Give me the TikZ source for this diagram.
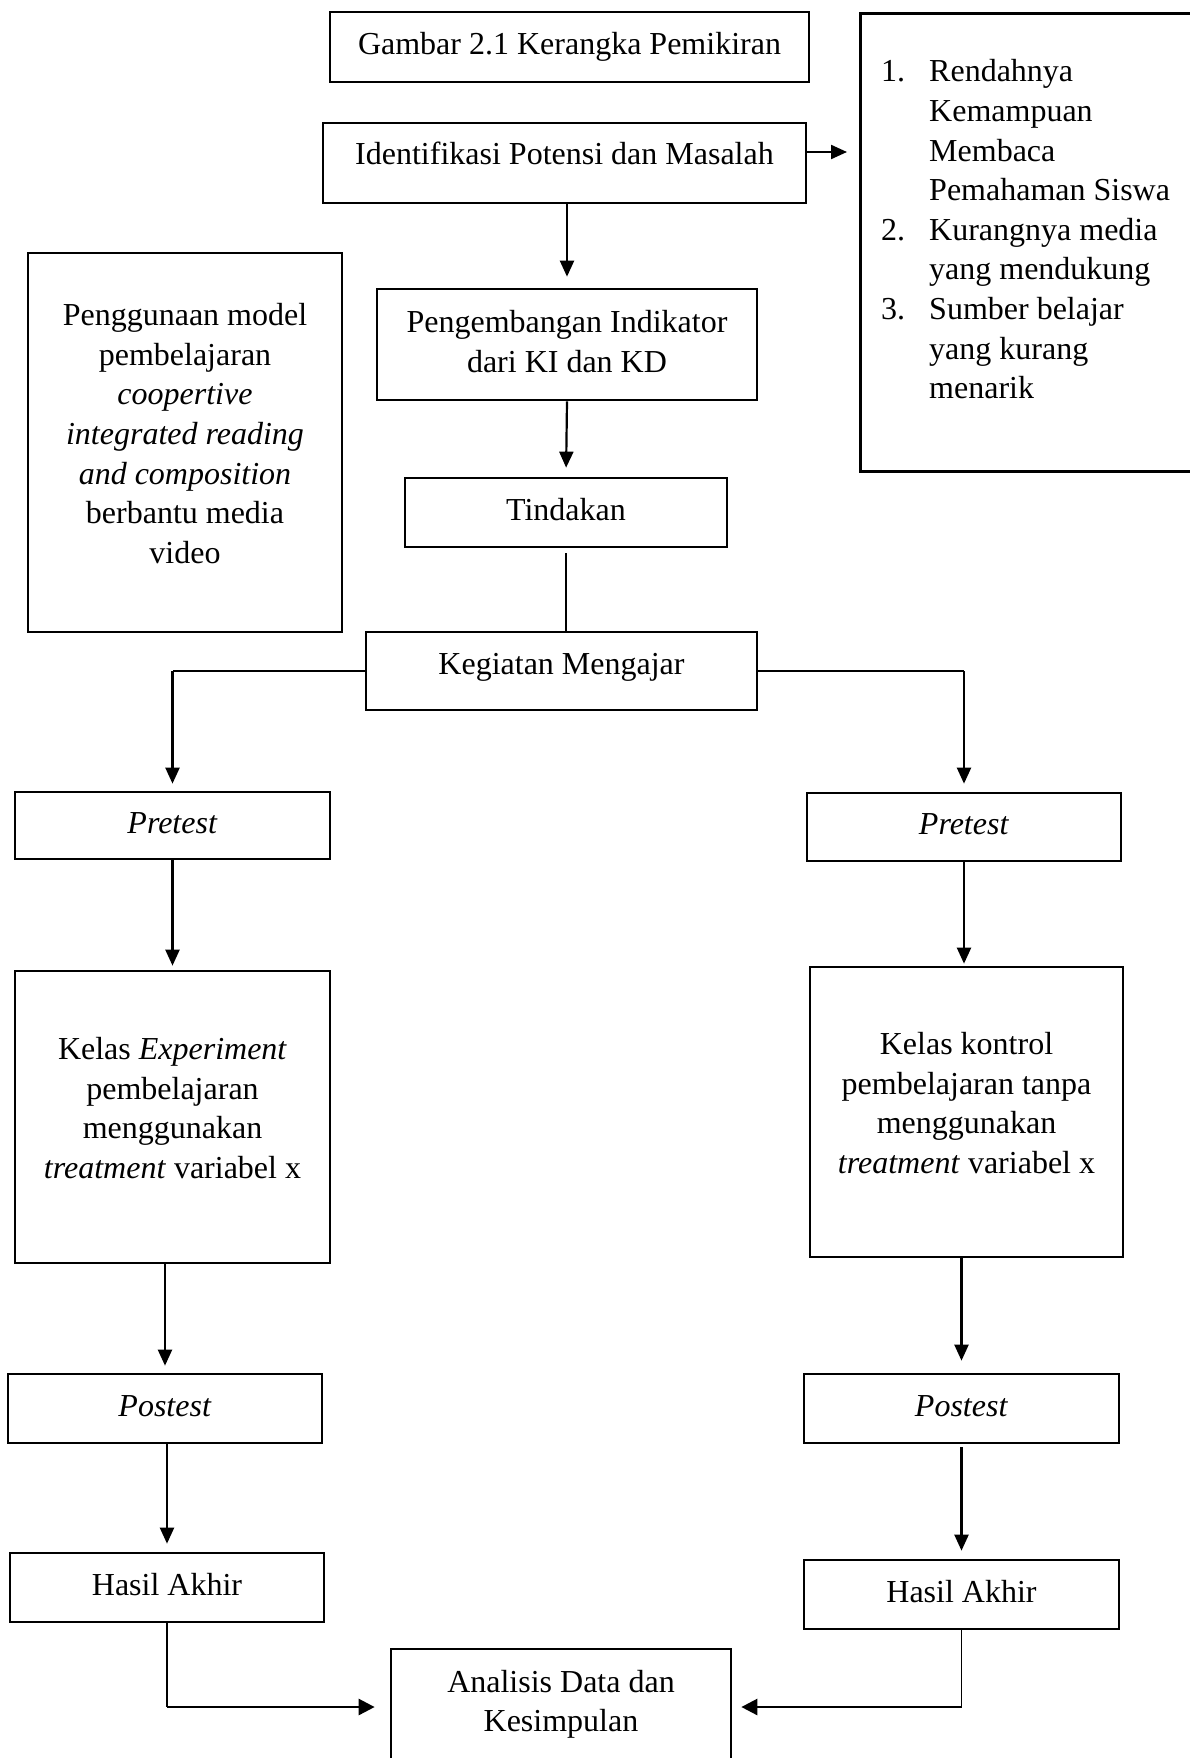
\documentclass[tikz,border=0pt]{standalone}
\usepackage{fontspec}
\setmainfont{Liberation Serif}
\usetikzlibrary{arrows.meta,calc}
\newcommand{\isi}[2][0pt]{\begin{tabular}{@{}c@{}}#2\\[#1]\end{tabular}}

\begin{document}
\begin{tikzpicture}[x=1pt,y=-1pt,
  kotak/.style={draw,line width=2.7pt,inner sep=0pt,font=\fontsize{32}{39.6}\selectfont},
  panah/.style={line width=2.2pt,-{Triangle[length=16pt,width=14pt]}},
  garis/.style={line width=1.4pt},
  tipis/.style={line width=1.2pt},
  panahtebal/.style={line width=2.6pt,-{Triangle[length=16pt,width=16pt]}}]
\useasboundingbox (0,0) rectangle (1190,1758);
% kolom tengah
\node[kotak,minimum width=479,minimum height=70] (judul) at (569.5,47) {\isi{Gambar 2.1 Kerangka Pemikiran}};
\node[kotak,minimum width=483,minimum height=80] (ident) at (564.5,163) {\isi[12pt]{Identifikasi Potensi dan Masalah}};
\node[kotak,minimum width=380,minimum height=111] (peng) at (567,344.5) {\isi{Pengembangan Indikator\\dari KI dan KD}};
\node[kotak,minimum width=322,minimum height=69] (tind) at (566,512.5) {\isi{Tindakan}};
\node[kotak,minimum width=391,minimum height=78] (keg) at (561.5,671) {\isi[8pt]{Kegiatan Mengajar}};
% kotak samping
\node[kotak,anchor=north west,minimum width=360,minimum height=458] (masalah) at (859,12) {};
\node[anchor=base west,inner sep=0pt,font=\fontsize{32}{39.6}\selectfont] (daftar) at (881,82)
  {\begin{tabular}[t]{@{}l@{\hspace{24pt}}l@{}}
   1. & Rendahnya\\ & Kemampuan\\ & Membaca\\ & Pemahaman Siswa\\
   2. & Kurangnya media\\ & yang mendukung\\
   3. & Sumber belajar\\ & yang kurang\\ & menarik
   \end{tabular}};
\node[kotak,minimum width=314,minimum height=379] (guna) at (185,442.5) {\isi[12pt]{Penggunaan model\\pembelajaran\\\textit{coopertive}\\\textit{integrated reading}\\\textit{and composition}\\berbantu media\\video}};
% kelas eksperimen
\node[kotak,minimum width=315,minimum height=67] (pre1) at (172.5,825.5) {\isi{\textit{Pretest}}};
\node[kotak,minimum width=315,minimum height=292] (kelas1) at (172.5,1117) {\isi[12pt]{Kelas \textit{Experiment}\\pembelajaran\\menggunakan\\\textit{treatment} variabel x}};
\node[kotak,minimum width=314,minimum height=69] (post1) at (165,1408.5) {\isi{\textit{Postest}}};
\node[kotak,minimum width=314,minimum height=69] (hasil1) at (167,1587.5) {\isi{Hasil Akhir}};
% kelas kontrol
\node[kotak,minimum width=314,minimum height=68] (pre2) at (964,827) {\isi{\textit{Pretest}}};
\node[kotak,minimum width=313,minimum height=290] (kelas2) at (966.5,1112) {\isi[12pt]{Kelas kontrol\\pembelajaran tanpa\\menggunakan\\\textit{treatment} variabel x}};
\node[kotak,minimum width=315,minimum height=69] (post2) at (961.5,1408.5) {\isi{\textit{Postest}}};
\node[kotak,minimum width=315,minimum height=69] (hasil2) at (961.5,1594.5) {\isi{Hasil Akhir}};
\node[kotak,minimum width=340,minimum height=116] (ana) at (561,1707) {\isi[6pt]{Analisis Data dan\\Kesimpulan}};
% penghubung
\draw[panah,shorten >=12pt] ([yshift=11pt]ident.east) -- ([yshift=11pt]ident.east -| masalah.west);
\draw[panah,shorten >=11pt] (ident.south -| peng.north) -- (peng.north);
\draw[panah,shorten >=9pt] (peng.south) -- (tind.north);
\draw[tipis,shorten <=5pt] (tind.south) -- (tind.south |- keg.north);
\coordinate (kiri) at (keg.west -| pre1.north);
\coordinate (kanan) at (keg.east -| pre2.north);
\draw[garis] (keg.west) -- (kiri);
\draw[panah,shorten >=7pt] (kiri) -- (pre1.north);
\draw[garis] (keg.east) -- (kanan);
\draw[panah,shorten >=8pt] (kanan) -- (pre2.north);
\draw[panah,shorten >=4pt] (pre1.south) -- (kelas1.north);
\draw[panah,shorten >=2pt] (pre2.south) -- (pre2.south |- kelas2.north);
\draw[panah,shorten >=7pt] (kelas1.south -| post1.north) -- (post1.north);
\draw[panah,shorten >=12pt] (kelas2.south -| post2.north) -- (post2.north);
\draw[panah,shorten >=8pt] (post1.south -| hasil1.north) -- (hasil1.north);
\draw[panah,shorten <=3pt,shorten >=8pt] (post2.south) -- (hasil2.north);
\draw[tipis] (hasil1.south) -- (hasil1.south |- ana.west);
\draw[panahtebal,shorten >=15pt] (hasil1.south |- ana.west) -- (ana.west);
\draw[tipis] (hasil2.south) -- (hasil2.south |- ana.east);
\draw[panahtebal,shorten >=9pt] (hasil2.south |- ana.east) -- (ana.east);
\end{tikzpicture}
\end{document}
